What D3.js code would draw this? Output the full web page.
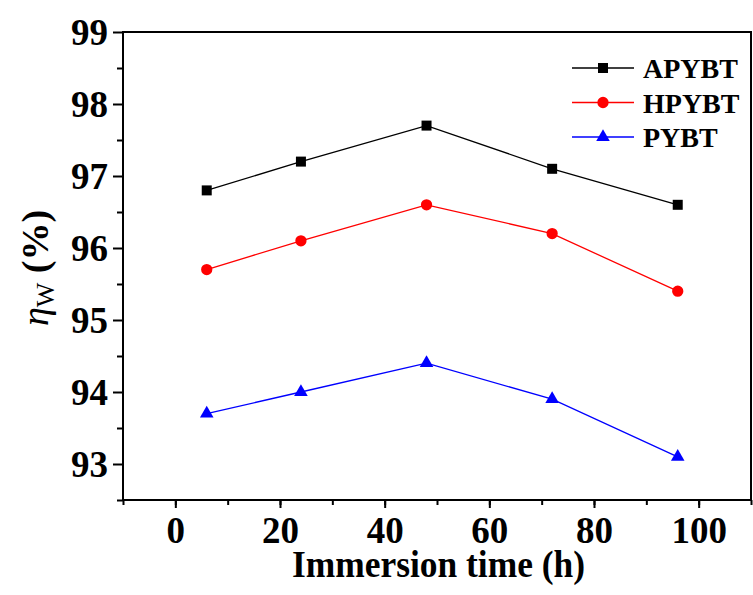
<!DOCTYPE html>
<html>
<head>
<meta charset="utf-8">
<script src="https://cdn.jsdelivr.net/npm/d3@7"></script>
<style>
html,body{margin:0;padding:0;background:#fff;}
svg{display:block;}
text{font-family:"Liberation Serif","Times New Roman",serif;font-weight:bold;fill:#000;}
</style>
</head>
<body>
<svg id="chart" width="753" height="595"></svg>
<script>
const times = [6, 24, 48, 72, 96];
const apybt = [96.8, 97.2, 97.7, 97.1, 96.6];
const hpybt = [95.7, 96.1, 96.6, 96.2, 95.4];
const pybt = [93.7, 94.0, 94.4, 93.9, 93.1];
const seriesNames = ["APYBT", "HPYBT", "PYBT"];
const xTicks = [0, 20, 40, 60, 80, 100];
const yTicks = [93, 94, 95, 96, 97, 98, 99];

const svg = d3.select("#chart");
const L = 123, R = 751, T = 32, B = 500;
const x = d3.scaleLinear().domain([-10, 110]).range([L, R]);
const y = d3.scaleLinear().domain([92.5, 99]).range([B, T]);

const series = [
  {name: seriesNames[0], values: apybt, color: "#000000", shape: d3.symbolSquare, size: 100},
  {name: seriesNames[1], values: hpybt, color: "#ff0000", shape: d3.symbolCircle, size: 100},
  {name: seriesNames[2], values: pybt, color: "#0000ff", shape: d3.symbolTriangle, size: 80}
];

// frame
svg.append("rect").attr("x", L).attr("y", T).attr("width", R - L).attr("height", B - T)
  .attr("fill", "none").attr("stroke", "#000").attr("stroke-width", 2);

// y axis
const yAxis = svg.append("g").attr("transform", `translate(${L},0)`)
  .call(d3.axisLeft(y).tickValues(yTicks).tickSize(10).tickPadding(5).tickFormat(d3.format("d")));
yAxis.select(".domain").remove();
yAxis.selectAll(".tick line").attr("stroke-width", 2);
yAxis.selectAll(".tick text").attr("font-size", 37).attr("font-family", "Liberation Serif").attr("font-weight", "bold").attr("dy", "0.34em");
const yMinor = svg.append("g").attr("transform", `translate(${L},0)`)
  .call(d3.axisLeft(y).tickValues(d3.range(92.5, 99, 1)).tickSize(6).tickFormat(""));
yMinor.select(".domain").remove();
yMinor.selectAll(".tick line").attr("stroke-width", 2);

// x axis
const xAxis = svg.append("g").attr("transform", `translate(0,${B})`)
  .call(d3.axisBottom(x).tickValues(xTicks).tickSize(8).tickPadding(9).tickFormat(d3.format("d")));
xAxis.select(".domain").remove();
xAxis.selectAll(".tick line").attr("stroke-width", 2);
xAxis.selectAll(".tick text").attr("font-size", 37).attr("font-family", "Liberation Serif").attr("font-weight", "bold").attr("dy", "0.71em");
const xMinor = svg.append("g").attr("transform", `translate(0,${B})`)
  .call(d3.axisBottom(x).tickValues(d3.range(-10, 111, 10)).tickSize(5).tickFormat(""));
xMinor.select(".domain").remove();
xMinor.selectAll(".tick line").attr("stroke-width", 2);

// lines and markers
const line = d3.line().x((d, i) => x(times[i])).y(d => y(d));
series.forEach(s => {
  svg.append("path").datum(s.values).attr("d", line)
    .attr("fill", "none").attr("stroke", s.color).attr("stroke-width", 1.3);
  svg.selectAll(null).data(s.values).enter().append("path")
    .attr("d", d3.symbol().type(s.shape).size(s.size))
    .attr("transform", (d, i) => `translate(${x(times[i])},${y(d)})`)
    .attr("fill", s.color);
});

// legend
const lg = svg.append("g");
series.forEach((s, i) => {
  const ly = 68 + i * 34.5;
  lg.append("line").attr("x1", 572).attr("x2", 634).attr("y1", ly).attr("y2", ly)
    .attr("stroke", s.color).attr("stroke-width", 1.3);
  lg.append("path").attr("d", d3.symbol().type(s.shape).size(s.size))
    .attr("transform", `translate(603,${ly})`).attr("fill", s.color);
  lg.append("text").attr("x", 643).attr("y", ly + 10).attr("font-size", 28).text(s.name);
});

// x label
svg.append("text").attr("x", 292).attr("y", 577)
  .attr("font-size", 37).attr("textLength", 293).attr("lengthAdjust", "spacingAndGlyphs")
  .text("Immersion time (h)");

// y label
const yl = svg.append("text").attr("transform", "translate(48,268) rotate(-90)")
  .attr("text-anchor", "middle").attr("font-size", 38);
yl.append("tspan").attr("font-style", "italic").attr("font-weight", "normal").text("η");
yl.append("tspan").attr("font-size", 26).attr("font-weight", "normal").attr("dy", 6).text("W");
yl.append("tspan").attr("dy", -6).text(" (%)");
</script>
</body>
</html>
